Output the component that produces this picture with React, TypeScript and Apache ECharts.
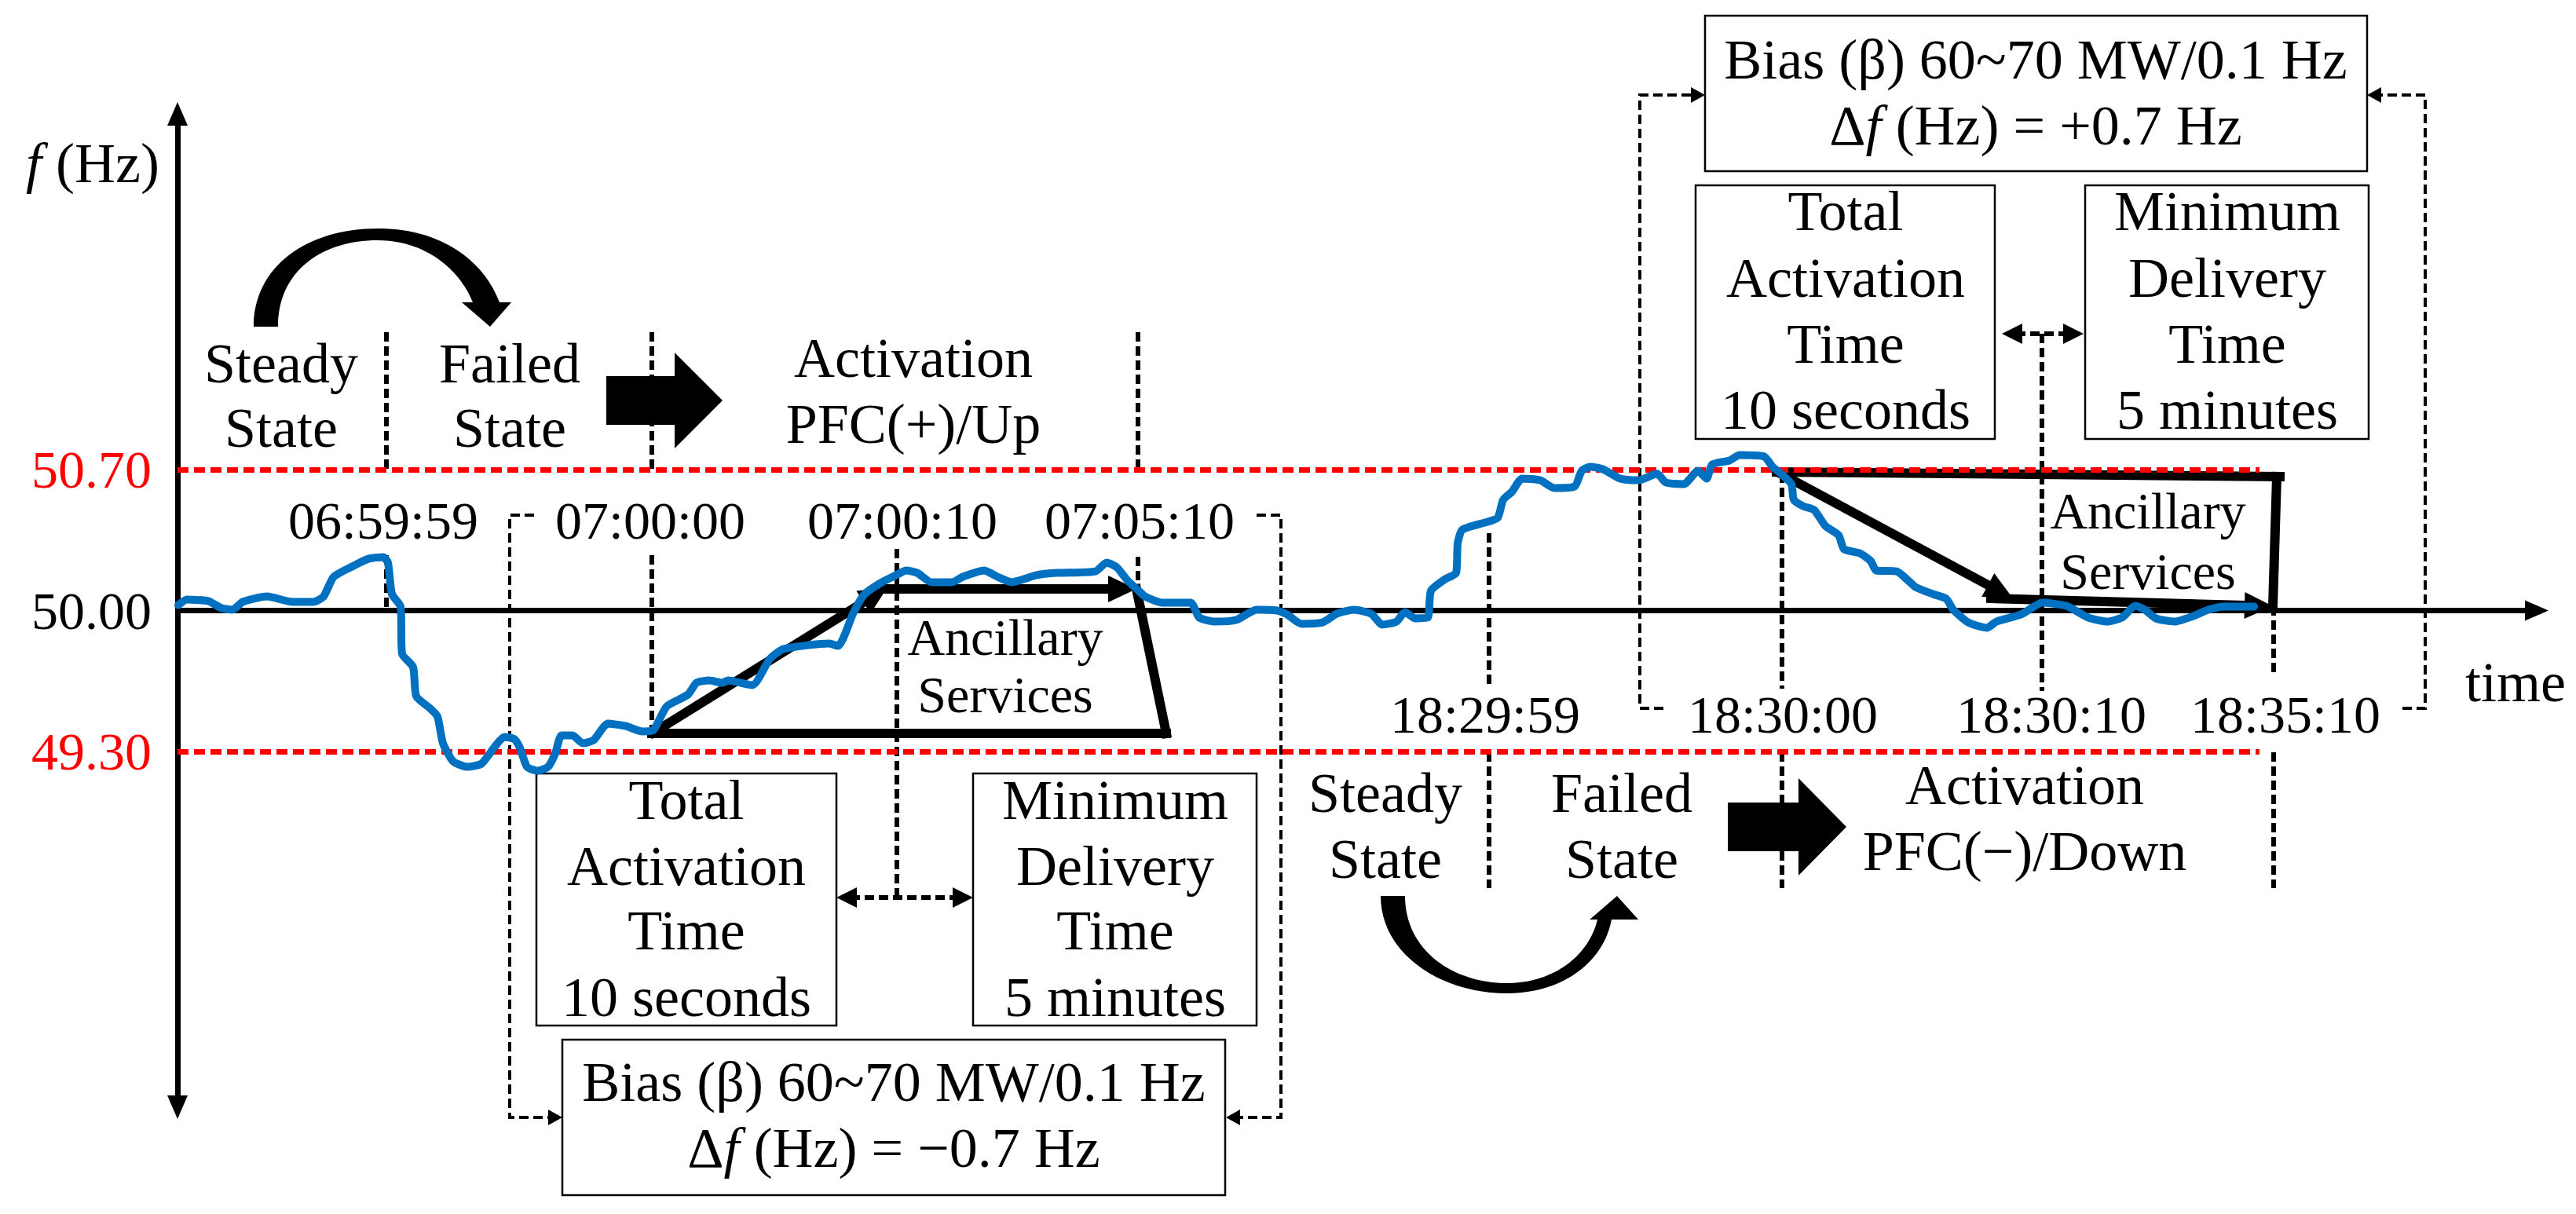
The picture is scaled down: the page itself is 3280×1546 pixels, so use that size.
import React, { useEffect, useRef } from "react";
import * as echarts from "echarts";

// ---------------- data (x: position along the schematic time axis, y: frequency in Hz) ----------------
const FREQUENCY_TRACE: [number, number][] = [
  [1, 50.027], [12, 50.055], [39, 50.047], [56, 50.012], [70, 50.004], [83, 50.043], [114, 50.07],
  [146, 50.043], [173, 50.043], [186, 50.07], [199, 50.168], [226, 50.226], [244, 50.258], [262, 50.266],
  [268, 50.238], [273, 50.082], [284, 50.02], [286, 49.785], [300, 49.719], [304, 49.574], [322, 49.512],
  [331, 49.473], [338, 49.34], [351, 49.25], [369, 49.223], [387, 49.238], [405, 49.328], [416, 49.371],
  [429, 49.36], [436, 49.317], [445, 49.223], [458, 49.203], [472, 49.223], [481, 49.289], [489, 49.379],
  [503, 49.379], [516, 49.34], [530, 49.356], [548, 49.438], [570, 49.426], [592, 49.399], [606, 49.406],
  [623, 49.524], [650, 49.582], [661, 49.641], [677, 49.652], [694, 49.641], [701, 49.652], [732, 49.629],
  [754, 49.758], [772, 49.809], [830, 49.836], [841, 49.824], [861, 49.992], [875, 50.082], [897, 50.141],
  [915, 50.176], [928, 50.199], [942, 50.187], [960, 50.141], [986, 50.141], [1000, 50.168], [1027, 50.199],
  [1044, 50.168], [1062, 50.141], [1094, 50.176], [1120, 50.187], [1169, 50.195], [1183, 50.238],
  [1196, 50.215], [1210, 50.148], [1221, 50.109], [1232, 50.07], [1254, 50.039], [1290, 50.039],
  [1301, 49.965], [1321, 49.945], [1348, 49.953], [1374, 50.004], [1400, 50.0], [1413, 49.98],
  [1431, 49.934], [1458, 49.941], [1476, 49.984], [1498, 50.004], [1520, 49.984], [1534, 49.93],
  [1552, 49.945], [1563, 49.992], [1576, 49.961], [1592, 49.965], [1596, 50.098], [1614, 50.156],
  [1628, 50.187], [1630, 50.332], [1636, 50.402], [1668, 50.441], [1681, 50.461], [1688, 50.551],
  [1699, 50.59], [1712, 50.656], [1735, 50.648], [1753, 50.609], [1779, 50.617], [1788, 50.695],
  [1799, 50.715], [1815, 50.703], [1837, 50.656], [1860, 50.648], [1884, 50.68], [1895, 50.637],
  [1918, 50.629], [1936, 50.695], [1947, 50.656], [1954, 50.726], [1976, 50.746], [1989, 50.773],
  [2020, 50.766], [2031, 50.715], [2041, 50.683], [2055, 50.629], [2058, 50.551], [2070, 50.519],
  [2084, 50.5], [2098, 50.422], [2115, 50.375], [2122, 50.305], [2142, 50.285], [2156, 50.246],
  [2163, 50.199], [2189, 50.195], [2204, 50.148], [2213, 50.117], [2235, 50.082], [2252, 50.059],
  [2261, 50.004], [2280, 49.941], [2304, 49.914], [2316, 49.945], [2347, 49.98], [2364, 50.02],
  [2374, 50.039], [2405, 50.023], [2433, 49.965], [2457, 49.945], [2476, 49.965], [2493, 50.023],
  [2505, 50.004], [2519, 49.961], [2543, 49.945], [2567, 49.973], [2586, 50.004], [2606, 50.02],
  [2644, 50.02],
];
const Y_TICKS = [49.3, 50.0, 50.7];
const NOMINAL_HZ = 50.0;
const UPPER_LIMIT_HZ = 50.7;
const LOWER_LIMIT_HZ = 49.3;
const LIMIT_END_X = 2651;
const X_MAX = 3004;
const Y_MIN = 47.53;
const Y_MAX = 52.47;

const TOP_TIMES = ["06:59:59", "07:00:00", "07:00:10", "07:05:10"];
const BOTTOM_TIMES = ["18:29:59", "18:30:00", "18:30:10", "18:35:10"];
const TOP_STATES = [["Steady", "State"], ["Failed", "State"], ["Activation", "PFC(+)/Up"]];
const BOTTOM_STATES = [["Steady", "State"], ["Failed", "State"], ["Activation", "PFC(\u2212)/Down"]];
const TAT_LINES = ["Total", "Activation", "Time", "10 seconds"];
const MDT_LINES = ["Minimum", "Delivery", "Time", "5 minutes"];
const BIAS_LINE = "Bias (\u03B2) 60~70 MW/0.1 Hz";
const DELTA_DOWN = "\u0394{i|f} (Hz) = \u22120.7 Hz";
const DELTA_UP = "\u0394{i|f} (Hz) = +0.7 Hz";
const ANCILLARY = ["Ancillary", "Services"];

// ---------------- layout ----------------
const FONT = "Liberation Serif, Times New Roman, serif";
const TOP_TIME_X = [488, 828, 1149, 1451];
const BOTTOM_TIME_X = [1891, 2270, 2612, 2910];
const TOP_STATE_X = [358, 649, 1163];
const BOTTOM_STATE_X = [1764, 2065, 2578];

const UP_ARC =
  "M 323 416 C 323 340 390 291 481 291 C 560 291 615 330 636 385 L 651 385 L 624 416 L 588 385 L 602 385 C 585 342 540 306 481 306 C 410 306 354 345 354 416 Z";
const LOW_ARC =
  "M 1758 1141 C 1758 1215 1835 1265 1919 1265 C 1990 1265 2042 1225 2052 1171 L 2086 1171 L 2059 1141 L 2024 1171 L 2034 1171 C 2024 1215 1980 1252 1919 1252 C 1850 1252 1789 1210 1789 1141 Z";

echarts.graphic.registerShape("upArc", echarts.graphic.extendPath(UP_ARC, {}));
echarts.graphic.registerShape("lowArc", echarts.graphic.extendPath(LOW_ARC, {}));

const rich = (fs: number) => ({
  i: { fontStyle: "italic", fontSize: fs, fontFamily: FONT, fill: "#000" },
});

const T = (x: number, yb: number, text: string, fs = 72, align = "center", fill = "#000") => ({
  type: "text",
  x,
  y: yb - 0.3375 * fs,
  z: 4,
  silent: true,
  style: {
    text,
    fill,
    fontSize: fs,
    fontFamily: FONT,
    align,
    verticalAlign: "middle",
    textAlign: align,
    textVerticalAlign: "middle",
    rich: rich(fs),
  },
});

const L = (x1: number, y1: number, x2: number, y2: number, lw: number, dash?: number[], cap = "butt") => ({
  type: "line",
  z: 3,
  silent: true,
  shape: { x1, y1, x2, y2 },
  style: { stroke: "#000", lineWidth: lw, lineDash: dash || null, lineCap: cap },
});

const PL = (points: number[][], lw: number, dash?: number[]) => ({
  type: "polyline",
  z: 3,
  silent: true,
  shape: { points },
  style: { stroke: "#000", lineWidth: lw, lineDash: dash || null, fill: null },
});

const HEAD = (tx: number, ty: number, fx: number, fy: number, len: number, w: number) => {
  const dx = tx - fx;
  const dy = ty - fy;
  const d = Math.hypot(dx, dy);
  const ux = dx / d;
  const uy = dy / d;
  const bx = tx - ux * len;
  const by = ty - uy * len;
  return {
    type: "polygon",
    z: 3,
    silent: true,
    shape: { points: [[tx, ty], [bx - uy * w, by + ux * w], [bx + uy * w, by - ux * w]] },
    style: { fill: "#000" },
  };
};

const ARROW = (x1: number, y1: number, x2: number, y2: number, lw: number, len: number, w: number) => {
  const dx = x2 - x1;
  const dy = y2 - y1;
  const d = Math.hypot(dx, dy);
  const ex = x2 - (dx / d) * len * 0.6;
  const ey = y2 - (dy / d) * len * 0.6;
  return [L(x1, y1, ex, ey, lw, undefined, "square"), HEAD(x2, y2, x1, y1, len, w)];
};

const BOX = (x: number, y: number, w: number, h: number) => ({
  type: "rect",
  z: 3,
  silent: true,
  shape: { x, y, width: w, height: h },
  style: { fill: null, stroke: "#000", lineWidth: 2.5 },
});

const BLOCK = (x0: number, x1: number, xt: number, yc: number, hr: number, hh: number) => ({
  type: "polygon",
  z: 3,
  silent: true,
  shape: {
    points: [[x0, yc - hr], [x1, yc - hr], [x1, yc - hh], [xt, yc], [x1, yc + hh], [x1, yc + hr], [x0, yc + hr]],
  },
  style: { fill: "#000" },
});

function buildGraphic() {
  const els: any[] = [];
  const VD = [12, 6];
  const BD = [12, 6];
  const TW = 12; // envelope line width
  // thick dashed time markers
  const verticals = [
    [492, 423, 597], [492, 707, 778],
    [830, 423, 597], [830, 707, 931],
    [1449, 423, 597], [1449, 709, 750],
    [1142, 699, 1143],
    [1896, 679, 877], [1896, 958, 1131],
    [2269, 603, 877], [2269, 958, 1131],
    [2600, 425, 880],
    [2895, 772, 862], [2895, 958, 1131],
  ];
  verticals.forEach(([x, a, b]) => els.push(L(x, a, x, b, 6, VD)));

  // brackets
  els.push(PL([[680, 656], [649, 656], [649, 1423], [702, 1423]], 4, BD), HEAD(716, 1423, 649, 1423, 18, 10));
  els.push(PL([[1600, 656], [1631, 656], [1631, 1423], [1575, 1423]], 4, BD), HEAD(1561, 1423, 1631, 1423, 18, 10));
  els.push(PL([[2118, 902], [2088, 902], [2088, 121], [2157, 121]], 4, BD), HEAD(2171, 121, 2088, 121, 18, 10));
  els.push(PL([[3059, 902], [3088, 902], [3088, 121], [3028, 121]], 4, BD), HEAD(3014, 121, 3088, 121, 18, 10));

  // double arrows between boxes
  els.push(L(1083, 1143, 1221, 1143, 6, VD), HEAD(1065, 1143, 1142, 1143, 26, 13), HEAD(1239, 1143, 1142, 1143, 26, 13));
  els.push(L(2567, 425, 2635, 425, 6, VD), HEAD(2549, 425, 2600, 425, 26, 13), HEAD(2653, 425, 2600, 425, 26, 13));

  // boxes
  els.push(BOX(683, 985, 382, 321), BOX(1239, 985, 361, 321), BOX(716, 1324, 844, 198));
  els.push(BOX(2171, 20, 843, 198), BOX(2159, 236, 381, 323), BOX(2655, 236, 361, 323));

  // envelopes (activation / delivery)
  els.push(...ARROW(832, 933, 1130, 748, TW, 36, 17));
  els.push(...ARROW(1126, 750, 1447, 750, TW, 36, 17));
  els.push(L(1447, 750, 1485, 934, TW, undefined, "square"), L(1485, 934, 830, 934, TW, undefined, "square"));
  els.push(L(2262, 601, 2903, 607, TW, undefined, "square"), L(2899, 607, 2894, 772, TW, undefined, "square"));
  els.push(...ARROW(2267, 603, 2563, 762, TW, 36, 17));
  els.push(...ARROW(2535, 762, 2894, 772, TW, 36, 17));

  // block arrows & curved arrows
  els.push(BLOCK(772, 859, 920, 510, 31, 61), BLOCK(2200, 2290, 2351, 1053, 31, 62));
  els.push({ type: "upArc", x: 0, y: 0, z: 3, silent: true, style: { fill: "#000" } });
  els.push({ type: "lowArc", x: 0, y: 0, z: 3, silent: true, style: { fill: "#000" } });

  // texts
  els.push(T(203, 232, "{i|f} (Hz)", 72, "right"));
  els.push(T(3139, 893, "time", 72, "left"));
  TOP_STATES.forEach((lines, i) => {
    const base = i === 2 ? [480, 564] : [487, 569];
    lines.forEach((s, j) => els.push(T(TOP_STATE_X[i], base[j], s)));
  });
  BOTTOM_STATES.forEach((lines, i) => {
    const base = i === 2 ? [1024, 1108] : [1034, 1118];
    lines.forEach((s, j) => els.push(T(BOTTOM_STATE_X[i], base[j], s)));
  });
  TOP_TIMES.forEach((s, i) => els.push(T(TOP_TIME_X[i], 686, s, 68)));
  BOTTOM_TIMES.forEach((s, i) => els.push(T(BOTTOM_TIME_X[i], 933, s, 68)));
  els.push(T(1280, 834, ANCILLARY[0], 66), T(1280, 907, ANCILLARY[1], 66));
  els.push(T(2735, 673, ANCILLARY[0], 66), T(2735, 750, ANCILLARY[1], 66));
  const lowBase = [1043, 1127, 1209, 1294];
  const topBase = [293, 378, 462, 546];
  TAT_LINES.forEach((s, j) => { els.push(T(874, lowBase[j], s)); els.push(T(2350, topBase[j], s)); });
  MDT_LINES.forEach((s, j) => { els.push(T(1420, lowBase[j], s)); els.push(T(2836, topBase[j], s)); });
  els.push(T(1138, 1402, BIAS_LINE), T(1138, 1486, DELTA_DOWN));
  els.push(T(2592, 100, BIAS_LINE), T(2592, 184, DELTA_UP));
  return els;
}

function buildOption() {
  const redDash = { color: "#FF0000", width: 7, type: [14, 7] };
  return {
    animation: false,
    backgroundColor: "#ffffff",
    textStyle: { fontFamily: FONT },
    grid: { left: 226, right: 50, top: 145, bottom: 136, containLabel: false },
    xAxis: {
      type: "value",
      min: 0,
      max: X_MAX,
      axisLine: { show: false },
      axisTick: { show: false },
      axisLabel: { show: false },
      splitLine: { show: false },
    },
    yAxis: {
      type: "value",
      min: Y_MIN,
      max: Y_MAX,
      axisLine: {
        show: true,
        onZero: false,
        symbol: ["triangle", "triangle"],
        symbolSize: [26, 30],
        lineStyle: { color: "#000", width: 7 },
      },
      axisTick: { show: false },
      splitLine: { show: false },
      axisLabel: {
        customValues: Y_TICKS,
        margin: 33,
        fontFamily: FONT,
        fontSize: 68,
        formatter: (v: number) => {
          const s = v.toFixed(2);
          return Math.abs(v - NOMINAL_HZ) < 1e-6 ? `{k|${s}}` : `{r|${s}}`;
        },
        rich: {
          k: { color: "#000", fontSize: 68, fontFamily: FONT },
          r: { color: "#FF0000", fontSize: 68, fontFamily: FONT },
        },
      },
    },
    graphic: { elements: buildGraphic() },
    series: [
      {
        type: "line",
        data: [],
        silent: true,
        markLine: {
          silent: true,
          animation: false,
          label: { show: false },
          emphasis: { disabled: true },
          symbol: "none",
          data: [
            [
              { coord: [0, NOMINAL_HZ], symbol: "none", lineStyle: { color: "#000", width: 7, type: "solid" } },
              { coord: [X_MAX, NOMINAL_HZ], symbol: "triangle", symbolSize: [26, 30] },
            ],
            [
              { coord: [0, UPPER_LIMIT_HZ], symbol: "none", lineStyle: redDash },
              { coord: [LIMIT_END_X, UPPER_LIMIT_HZ], symbol: "none" },
            ],
            [
              { coord: [0, LOWER_LIMIT_HZ], symbol: "none", lineStyle: redDash },
              { coord: [LIMIT_END_X, LOWER_LIMIT_HZ], symbol: "none" },
            ],
          ],
        },
      },
      {
        type: "line",
        z: 10,
        data: FREQUENCY_TRACE,
        showSymbol: false,
        smooth: 0.2,
        silent: true,
        lineStyle: { color: "#0070C0", width: 10, join: "round", cap: "round" },
        itemStyle: { color: "#0070C0" },
      },
    ],
  };
}

export default function App() {
  const ref = useRef<HTMLDivElement>(null);
  useEffect(() => {
    if (!ref.current) return;
    const chart = echarts.init(ref.current, null, { renderer: "svg" });
    chart.setOption(buildOption() as any);
    return () => chart.dispose();
  }, []);
  return (
    <div
      ref={ref}
      style={{ position: "fixed", left: 0, top: 0, width: 3280, height: 1546, background: "#fff" }}
    />
  );
}
